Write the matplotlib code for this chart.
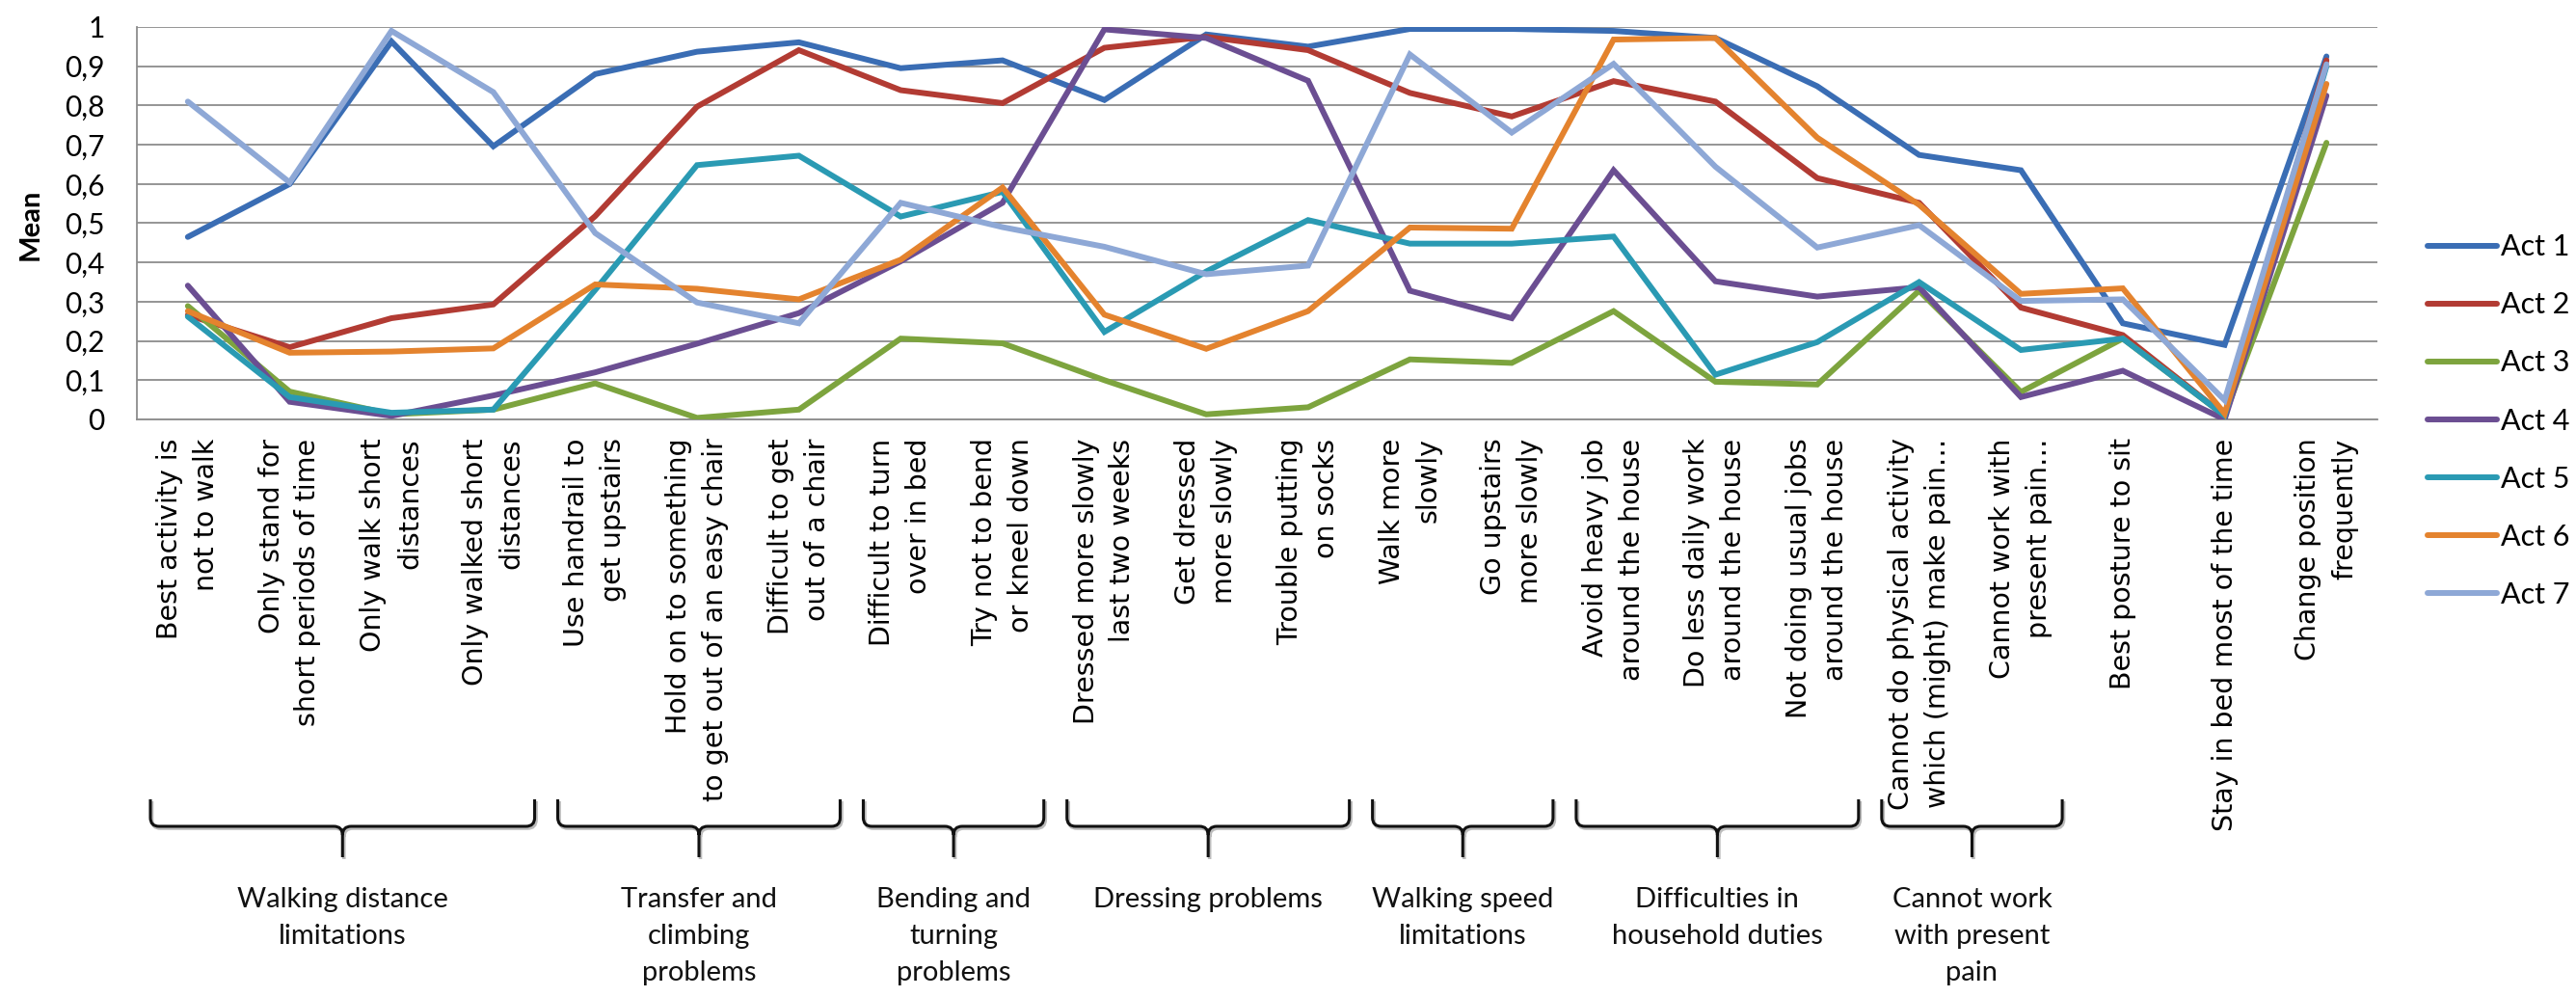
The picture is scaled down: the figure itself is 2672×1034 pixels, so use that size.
import numpy as np
import matplotlib
matplotlib.use("Agg")
import matplotlib.pyplot as plt
from matplotlib.path import Path
from matplotlib.patches import PathPatch
from matplotlib.transforms import Affine2D

# ---- data -------------------------------------------------------------
categories = [
    "Best activity is\nnot to walk",
    "Only stand for\nshort periods of time",
    "Only walk short\ndistances",
    "Only walked short\ndistances",
    "Use handrail to\nget upstairs",
    "Hold on to something\nto get out of an easy chair",
    "Difficult to get\nout of a chair",
    "Difficult to turn\nover in bed",
    "Try not to bend\nor kneel down",
    "Dressed more slowly\nlast two weeks",
    "Get dressed\nmore slowly",
    "Trouble putting\non socks",
    "Walk more\nslowly",
    "Go upstairs\nmore slowly",
    "Avoid heavy job\naround the house",
    "Do less daily work\naround the house",
    "Not doing usual jobs\naround the house",
    "Cannot do physical activity\nwhich (might) make pain\u2026",
    "Cannot work with\npresent pain\u2026",
    "Best posture to sit",
    "Stay in bed most of the time",
    "Change position\nfrequently",
]

act1 = [0.465, 0.600, 0.963, 0.696, 0.880, 0.937, 0.961, 0.895, 0.915, 0.814, 0.981,
        0.950, 0.995, 0.995, 0.990, 0.972, 0.849, 0.674, 0.635, 0.245, 0.190, 0.925]
act2 = [0.266, 0.184, 0.258, 0.293, 0.518, 0.797, 0.941, 0.839, 0.806, 0.947, 0.975,
        0.941, 0.832, 0.772, 0.862, 0.810, 0.615, 0.552, 0.285, 0.215, 0.010, 0.915]
act3 = [0.289, 0.071, 0.013, 0.025, 0.092, 0.004, 0.025, 0.206, 0.194, 0.100, 0.013,
        0.031, 0.153, 0.144, 0.276, 0.096, 0.089, 0.328, 0.070, 0.206, 0.010, 0.705]
act4 = [0.341, 0.045, 0.009, 0.061, 0.120, 0.193, 0.271, 0.403, 0.552, 0.994, 0.972,
        0.863, 0.328, 0.258, 0.635, 0.352, 0.313, 0.337, 0.057, 0.124, 0.000, 0.825]
act5 = [0.262, 0.057, 0.017, 0.025, 0.330, 0.648, 0.672, 0.517, 0.580, 0.223, 0.377,
        0.508, 0.448, 0.448, 0.466, 0.114, 0.197, 0.350, 0.177, 0.206, 0.010, 0.900]
act6 = [0.276, 0.170, 0.173, 0.181, 0.344, 0.333, 0.306, 0.407, 0.591, 0.267, 0.180,
        0.276, 0.489, 0.486, 0.968, 0.972, 0.718, 0.547, 0.320, 0.334, 0.015, 0.855]
act7 = [0.810, 0.604, 0.990, 0.834, 0.475, 0.298, 0.245, 0.552, 0.490, 0.440, 0.370,
        0.392, 0.930, 0.731, 0.906, 0.644, 0.438, 0.495, 0.302, 0.306, 0.049, 0.905]

series_names = ["Act 1", "Act 2", "Act 3", "Act 4", "Act 5", "Act 6", "Act 7"]
series_values = [act1, act2, act3, act4, act5, act6, act7]
series_colors = ["#3A6DB4", "#B23B33", "#7DA43E", "#6B4E92", "#2A9AB3", "#E4832E", "#8EA8D6"]

y_ticks = [0.0, 0.1, 0.2, 0.3, 0.4, 0.5, 0.6, 0.7, 0.8, 0.9, 1.0]
y_tick_labels = ["0", "0,1", "0,2", "0,3", "0,4", "0,5", "0,6", "0,7", "0,8", "0,9", "1"]

# groups of categories (first index, last index) and their captions
groups = [(0, 3), (4, 6), (7, 8), (9, 11), (12, 13), (14, 16), (17, 18)]
group_names = [
    "Walking distance\nlimitations",
    "Transfer and\nclimbing\nproblems",
    "Bending and\nturning\nproblems",
    "Dressing problems",
    "Walking speed\nlimitations",
    "Difficulties in\nhousehold duties",
    "Cannot work\nwith present\npain",
]

# ---- figure -----------------------------------------------------------
W, H = 2672, 1034
fig = plt.figure(figsize=(W / 100, H / 100), dpi=100)
fig.patch.set_facecolor("white")

ax_l, ax_r, ax_t, ax_b = 142, 2466, 28, 435
ax = fig.add_axes([ax_l / W, 1 - ax_b / H, (ax_r - ax_l) / W, (ax_b - ax_t) / H])

x = np.arange(len(categories))
handles = []
for name, vals, col in zip(series_names, series_values, series_colors):
    h, = ax.plot(x, vals, color=col, lw=4.3, solid_joinstyle="miter",
                 solid_capstyle="round", label=name, zorder=3)
    handles.append(h)

ax.set_xlim(-0.5, len(categories) - 0.5)
ax.set_ylim(0, 1)
ax.set_yticks(y_ticks)
ax.set_yticklabels(y_tick_labels, family=["Lato", "DejaVu Sans"], fontsize=21.5)
ax.yaxis.grid(True, color="#8C8C8C", lw=1.3, zorder=0)
ax.set_axisbelow(True)
ax.tick_params(axis="y", length=0, pad=24)

ax.set_xticks(x)
ax.set_xticklabels(categories, rotation=90, ha="center", va="top",
                   multialignment="right", fontsize=20.5,
                   family=["DejaVu Sans"], linespacing=1.45)
ax.tick_params(axis="x", length=0, pad=14)

for side in ("top", "right"):
    ax.spines[side].set_visible(False)
for side in ("left", "bottom"):
    ax.spines[side].set_color("#8C8C8C")
    ax.spines[side].set_linewidth(1.3)

fig.text(32 / W, 1 - 233 / H, "Mean", rotation=90, ha="center", va="center",
         fontsize=21, fontweight="bold", family=["Lato", "DejaVu Sans"])

fig.legend(handles=handles, labels=series_names, loc="center left",
           bbox_to_anchor=(2518 / W, 1 - 436.5 / H), frameon=False,
           prop={"family": ["Lato", "DejaVu Sans"], "size": 22},
           handlelength=2.35, handletextpad=0.15, labelspacing=1.05,
           borderpad=0, borderaxespad=0)

# ---- braces under the category labels --------------------------------
def data_x_to_px(xd):
    return ax_l + (xd + 0.5) / len(categories) * (ax_r - ax_l)

y_top, y_bar, y_tip, r = 829, 857, 889, 9

def brace_path(x0, x1):
    xm = 0.5 * (x0 + x1)
    pts = [
        (x0, y_top), (x0, y_bar - r), (x0, y_bar), (x0 + r, y_bar),
        (xm - r, y_bar), (xm, y_bar), (xm, y_bar + r), (xm, y_tip),
        (xm, y_bar + r), (xm, y_bar), (xm + r, y_bar),
        (x1 - r, y_bar), (x1, y_bar), (x1, y_bar - r), (x1, y_top),
    ]
    codes = [Path.MOVETO, Path.LINETO, Path.CURVE3, Path.CURVE3,
             Path.LINETO, Path.CURVE3, Path.CURVE3, Path.LINETO,
             Path.MOVETO, Path.CURVE3, Path.CURVE3,
             Path.LINETO, Path.CURVE3, Path.CURVE3, Path.LINETO]
    pts = [(px / W, 1 - py / H) for px, py in pts]
    return Path(pts, codes)

for (g0, g1), caption in zip(groups, group_names):
    x0 = data_x_to_px(g0 - 0.5) + 14
    x1 = data_x_to_px(g1 + 0.5) - 10
    # faint shadow, then the brace itself
    shadow = PathPatch(brace_path(x0 + 1.5, x1 + 1.5), fill=False,
                       edgecolor="#BBBBBB", lw=2.6, capstyle="butt")
    shadow.set_transform(fig.transFigure + Affine2D().translate(0, -2))
    fig.add_artist(shadow)
    fig.add_artist(PathPatch(brace_path(x0, x1), transform=fig.transFigure,
                             fill=False, edgecolor="#111111", lw=2.2,
                             capstyle="butt"))
    fig.text(0.5 * (x0 + x1) / W, 1 - 920 / H, caption, ha="center", va="top",
             multialignment="center", fontsize=21, linespacing=1.58,
             family=["Lato", "DejaVu Sans"], color="#111111")

fig.savefig("out.png", dpi=100, facecolor="white")
